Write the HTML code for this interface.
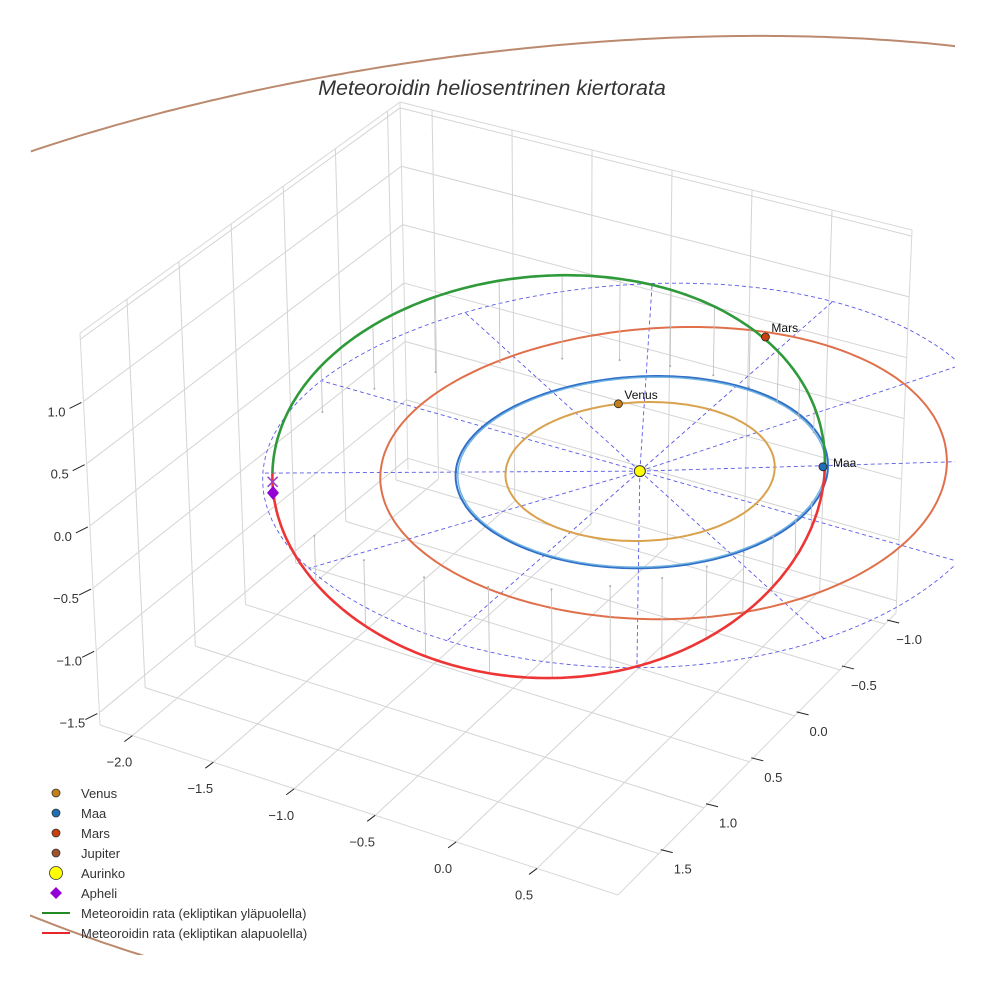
<!DOCTYPE html>
<html><head><meta charset="utf-8"><style>
html,body{margin:0;padding:0;background:#fff;overflow:hidden;}
svg{display:block;font-family:"Liberation Sans",sans-serif;}
</style></head><body>
<svg id="chart" width="984" height="984" viewBox="0 0 984 984" xmlns="http://www.w3.org/2000/svg">
<defs><clipPath id="clip"><rect x="30" y="30" width="925" height="925"/></clipPath></defs>
<rect width="984" height="984" fill="#fff"/>
<g id="grid"></g>
<g id="plot" clip-path="url(#clip)"></g>
<g id="ticks"></g>
<text x="492" y="95" text-anchor="middle" font-size="21.5" font-style="italic" fill="#333">Meteoroidin heliosentrinen kiertorata</text>
<g id="legend"></g>
</svg>
<script>
// ---- data ----
const xTicks=[-2.0,-1.5,-1.0,-0.5,0.0,0.5];
const yTicks=[-1.0,-0.5,0.0,0.5,1.0,1.5];
const zTicks=[-1.5,-1.0,-0.5,0.0,0.5,1.0];
const zGrid=[-1.5,-1.0,-0.5,0.0,0.5,1.0,1.5];
const orbitNames=['Venus','Maa','Mars','Jupiter'];
const orbitA=[0.723,1.0,1.524,5.15];
const orbitE=[0.0068,0.0167,0.0934,0.08];
const orbitPeri=[131,150,150,-90];
const orbitColors=['#d9a24e','#2f6fc8','#e0704c','#bb8a6e'];
const planetNames=['Venus','Maa','Mars'];
const planetX=[-0.472,0.857,-0.133];
const planetY=[-0.55,-0.495,-1.517];
const planetColors=['#c47f1a','#1f6fb4','#c8400e'];
const meteorQ=1.0, meteorAph=1.95, meteorInc=30, meteorNode=-30;
const refRadius=2.0;
const spokeAngles=[0,30,60,90,120,150,180,210,240,270,300,330];
const aphelionX=[-1.689], aphelionY=[0.975], aphelionZ=[-0.16];
const aphCrossZ=[-0.07];

// ---- projection (axes box) ----
const X0=-2.2,X1=1.0,Y0=-1.12,Y1=1.95,Z0=-1.6,Z1=1.55;
const Db=[408,470],Dt=[400,102],Cb=[896,613],Ct=[912,230],Ab=[100,725],At=[80,333],Bb=[618,895],Bt=[615,485];
function bil(D,C,A,B,u,v){return [ (1-u)*(1-v)*D[0]+u*(1-v)*C[0]+(1-u)*v*A[0]+u*v*B[0],
 (1-u)*(1-v)*D[1]+u*(1-v)*C[1]+(1-u)*v*A[1]+u*v*B[1]];}
function proj(x,y,z){const u=(x-X0)/(X1-X0),v=(y-Y0)/(Y1-Y0),w=(z-Z0)/(Z1-Z0);
 const b=bil(Db,Cb,Ab,Bb,u,v),t=bil(Dt,Ct,At,Bt,u,v);return [b[0]+w*(t[0]-b[0]),b[1]+w*(t[1]-b[1])];}
const NS='http://www.w3.org/2000/svg';
function mk(tag,attrs,parent){const e=document.createElementNS(NS,tag);for(const k in attrs)e.setAttribute(k,attrs[k]);parent.appendChild(e);return e;}
function inside(p){return p[0]>=25&&p[0]<=960&&p[1]>=25&&p[1]<=960;}
function pathD(pts){let d='',pen=false;for(const p of pts){if(!inside(p)){pen=false;continue;}d+=(pen?'L':'M')+p[0].toFixed(1)+' '+p[1].toFixed(1);pen=true;}return d;}
const grid=document.getElementById('grid'),plot=document.getElementById('plot'),ticks=document.getElementById('ticks'),legend=document.getElementById('legend');
const GC='#d4d4d4';
function seg(p,q,parent,stroke,w,name){const e=mk('line',{x1:p[0],y1:p[1],x2:q[0],y2:q[1],stroke:stroke,'stroke-width':w},parent);
 
 return e;}
// box grid
for(const x of xTicks){seg(proj(x,Y0,Z0),proj(x,Y1,Z0),grid,GC,1,'floor-grid-x');seg(proj(x,Y0,Z0),proj(x,Y0,Z1),grid,GC,1,'wall-grid-x');}
for(const y of yTicks){seg(proj(X0,y,Z0),proj(X1,y,Z0),grid,GC,1,'floor-grid-y');seg(proj(X0,y,Z0),proj(X0,y,Z1),grid,GC,1,'wall-grid-y');}
for(const z of zGrid){seg(proj(X0,Y1,z),proj(X0,Y0,z),grid,GC,1,'wall-grid-z');seg(proj(X0,Y0,z),proj(X1,Y0,z),grid,GC,1,'wall-grid-z');}
[[[X0,Y1,Z0],[X0,Y1,Z1]],[[X1,Y0,Z0],[X1,Y0,Z1]],[[X0,Y0,Z0],[X0,Y0,Z1]],[[X0,Y1,Z1],[X0,Y0,Z1]],[[X0,Y0,Z1],[X1,Y0,Z1]],
 [[X0,Y1,Z0],[X1,Y1,Z0]],[[X1,Y1,Z0],[X1,Y0,Z0]]].forEach(e=>seg(proj(...e[0]),proj(...e[1]),grid,'#d8d8d8',1,'pane-edge'));

function orbitPts(a,e,peri,n){const pts=[];for(let k=0;k<=n;k++){const nu=2*Math.PI*k/n,r=a*(1-e*e)/(1+e*Math.cos(nu)),l=nu+peri*Math.PI/180;pts.push(proj(r*Math.cos(l),r*Math.sin(l),0));}return pts;}
// Jupiter orbit
{const p=mk('path',{d:pathD(orbitPts(orbitA[3],orbitE[3],orbitPeri[3],720)),fill:'none',stroke:orbitColors[3],'stroke-width':2},plot);

}
// reference circle + spokes
{const pts=[];for(let k=0;k<=200;k++){const t=2*Math.PI*k/200;pts.push(proj(refRadius*Math.cos(t),refRadius*Math.sin(t),0));}
const p=mk('path',{d:pathD(pts),fill:'none',stroke:'#5a5ae6','stroke-width':0.9,'stroke-dasharray':'4 3'},plot);


for(const s of spokeAngles){const l=(meteorNode-s)*Math.PI/180;let q=proj(refRadius*Math.cos(l),refRadius*Math.sin(l),0);
const o=proj(0,0,0);
if(q[0]>955){const t=(955-o[0])/(q[0]-o[0]);q=[955,o[1]+t*(q[1]-o[1])];}
const e=mk('line',{x1:o[0],y1:o[1],x2:q[0],y2:q[1],stroke:'#5a5ae6','stroke-width':0.9,'stroke-dasharray':'4 3'},plot);

}}
// planet orbits
for(let i=0;i<3;i++){const p=mk('path',{d:pathD(orbitPts(orbitA[i],orbitE[i],orbitPeri[i],240)),fill:'none',stroke:orbitColors[i],'stroke-width':2},plot);

}
{const p=mk('path',{d:pathD(orbitPts(orbitA[1]*0.988,orbitE[1],orbitPeri[1],240)),fill:'none',stroke:'#6fb2e2','stroke-width':1.4},plot);

}
// meteoroid orbit
const mA=(meteorQ+meteorAph)/2,mE=(meteorAph-meteorQ)/(meteorAph+meteorQ),inc=meteorInc*Math.PI/180,nd=meteorNode*Math.PI/180;
const P=[Math.cos(nd),Math.sin(nd)],N=[Math.cos(nd-Math.PI/2),Math.sin(nd-Math.PI/2)];
function met(th){const r=mA*(1-mE*mE)/(1+mE*Math.cos(th)),c=r*Math.cos(th),s=r*Math.sin(th);
 return [c*P[0]+s*Math.cos(inc)*N[0],c*P[1]+s*Math.cos(inc)*N[1],s*Math.sin(inc)];}
// drop lines
for(let d=12;d<360;d+=12){if(d%180<14||d%180>166)continue;const th=d*Math.PI/180,m=met(th);const a=proj(...m),b=proj(m[0],m[1],0);
 const e=mk('line',{x1:a[0],y1:a[1],x2:b[0],y2:b[1],stroke:'#c4c4c4','stroke-width':0.9},plot);
 
 
 const c=mk('circle',{cx:b[0],cy:b[1],r:1,fill:'#aaa'},plot);
 
 }
{const up=[],dn=[];for(let k=0;k<=180;k++){up.push(proj(...met(Math.PI*k/180)));dn.push(proj(...met(Math.PI+Math.PI*k/180)));}
const g=mk('path',{d:pathD(up),fill:'none',stroke:'#2e9a3a','stroke-width':2.6},plot);


const r=mk('path',{d:pathD(dn),fill:'none',stroke:'#ee3535','stroke-width':2.6},plot);

}
// aphelion markers
{const q=proj(aphelionX[0],aphelionY[0],aphCrossZ[0]);
const x1=mk('path',{d:`M${q[0]-5} ${q[1]-5}L${q[0]+5} ${q[1]+5}M${q[0]-5} ${q[1]+5}L${q[0]+5} ${q[1]-5}`,stroke:'#a040d0','stroke-width':1.6},plot);


const p=proj(aphelionX[0],aphelionY[0],aphelionZ[0]);
const dm=mk('path',{d:`M${p[0]} ${p[1]-7}L${p[0]+6} ${p[1]}L${p[0]} ${p[1]+7}L${p[0]-6} ${p[1]}Z`,fill:'#9400d3'},plot);

}
// sun
{const s=proj(0,0,0);const c=mk('circle',{cx:s[0],cy:s[1],r:5.5,fill:'#ffff00',stroke:'#333','stroke-width':1},plot);

}
// planets
for(let i=0;i<planetNames.length;i++){const p=proj(planetX[i],planetY[i],0);
 const c=mk('circle',{cx:p[0],cy:p[1],r:4,fill:planetColors[i],stroke:'#222','stroke-width':0.8},plot);
 
 
 const t=mk('text',{x:p[0]+(i==1?10:6),y:p[1]+(i==1?0:-5),'font-size':12,fill:'#111'},plot);t.textContent=planetNames[i];
 
 }
// ticks
function fmt(v){return (v<0?'\u2212':'')+Math.abs(v).toFixed(1);}
for(const x of xTicks){const p=proj(x,Y1,Z0);seg([p[0],p[1]],[p[0]-8,p[1]+6],ticks,'#222',1,'x-tick');
 const t=mk('text',{x:p[0]-13,y:p[1]+31,'text-anchor':'middle','font-size':13,fill:'#333'},ticks);t.textContent=fmt(x);
 
 }
for(const y of yTicks){const p=proj(X1,y,Z0);seg([p[0]+2,p[1]-4],[p[0]+14,p[1]-1],ticks,'#222',1,'y-tick');
 const t=mk('text',{x:p[0]+24,y:p[1]+20,'text-anchor':'middle','font-size':13,fill:'#333'},ticks);t.textContent=fmt(y);
 
 }
for(const z of zTicks){const p=proj(X0,Y1,z);seg([p[0]-2,p[1]+1],[p[0]-14,p[1]+7],ticks,'#222',1,'z-tick');
 const t=mk('text',{x:p[0]-27,y:p[1]+15,'text-anchor':'middle','font-size':13,fill:'#333'},ticks);t.textContent=fmt(z);
 
 }
// legend
const legLabels=['Venus','Maa','Mars','Jupiter','Aurinko','Apheli','Meteoroidin rata (ekliptikan yläpuolella)','Meteoroidin rata (ekliptikan alapuolella)'];
const legColors=['#c47f1a','#1f6fb4','#c8400e','#a0522d','#ffff00','#9400d3','#228b22','#e8262a'];
for(let i=0;i<legLabels.length;i++){const y=793+i*20;let m;
 if(i<5){m=mk('circle',{cx:56,cy:y,r:i==4?6.5:4,fill:legColors[i],stroke:'#333','stroke-width':0.8},legend);}
 else if(i==5){m=mk('path',{d:`M56 ${y-6}L62 ${y}L56 ${y+6}L50 ${y}Z`,fill:legColors[i]},legend);}
 else{m=mk('line',{x1:42,y1:y,x2:70,y2:y,stroke:legColors[i],'stroke-width':2},legend);}
 
 
 const t=mk('text',{x:81,y:y+5,'font-size':13,fill:'#333'},legend);t.textContent=legLabels[i];
 
 }
</script>
</body></html>
